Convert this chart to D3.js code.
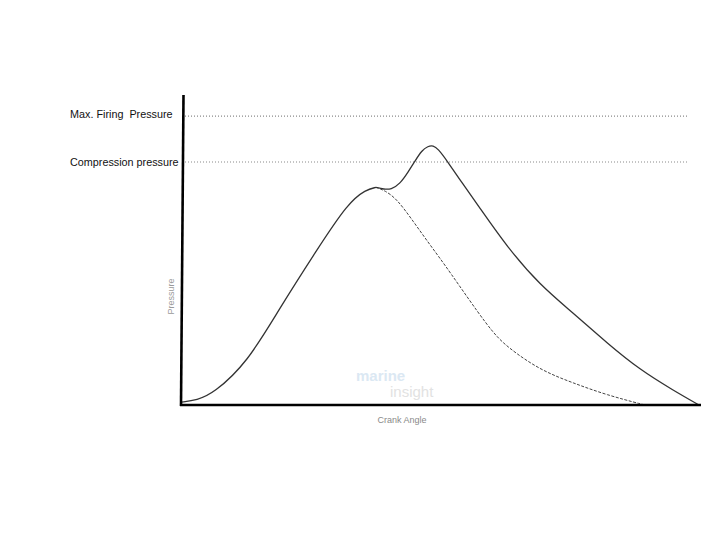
<!DOCTYPE html>
<html><head><meta charset="utf-8">
<script src="https://cdn.jsdelivr.net/npm/d3@7"></script>
<style>body{margin:0;background:#fff}svg{display:block}text{white-space:pre}</style>
</head><body>
<svg id="c" width="720" height="540"></svg>
<script>
// Crank angle (0-100) and pressure (0-100) in relative units
const compressionAngle = [0.0, 3.1, 6.2, 12.7, 19.0, 26.0, 32.1, 35.6, 37.5];
const compressionPressure = [0.9, 1.6, 3.7, 13.5, 31.3, 49.7, 65.2, 69.5, 70.2];

const motoringAngle = [37.5, 39.2, 41.5, 44.6, 47.9, 51.2, 59.4, 62.7, 69.0, 75.4, 81.9, 89.2];
const motoringPressure = [70.2, 69.2, 66.5, 59.4, 51.6, 44.2, 24.2, 18.7, 11.3, 7.1, 3.2, 0];

const firingAngle = [37.5, 39.0, 40.4, 42.1, 43.7, 45.0, 46.3, 47.5, 48.5, 49.4, 51.2, 54.2, 57.1, 62.7, 69.0, 75.4, 81.9, 88.3, 94.6, 99.6];
const firingPressure = [70.2, 69.6, 69.5, 71.3, 75.2, 78.7, 82.1, 83.5, 83.7, 82.7, 78.7, 71.3, 64.5, 51.0, 38.7, 29.7, 20.0, 11.3, 4.8, 0];

const refLabels = ["Max. Firing  Pressure", "Compression pressure"];
const refValues = [93.2, 78.4];
const xTitle = "Crank Angle";
const yTitle = "Pressure";

const svg = d3.select("#c");
const x = d3.scaleLinear().domain([0, 100]).range([181, 701]);
const y = d3.scaleLinear().domain([0, 100]).range([405, 95]);

const zip = (a, b) => a.map((v, i) => [v, b[i]]);
const line = d3.line().x(d => x(d[0])).y(d => y(d[1])).curve(d3.curveBasis);

// watermark
const wm = svg.append("g");
wm.append("text").attr("x", 356).attr("y", 381).text("marine")
  .attr("font-family", "Liberation Sans, Arial, sans-serif").attr("font-weight", "bold")
  .attr("font-size", 15).attr("fill", "#dbe8f3");
wm.append("text").attr("x", 390).attr("y", 397).text("insight")
  .attr("font-family", "Liberation Sans, Arial, sans-serif")
  .attr("font-size", 15).attr("fill", "#e2e2e2");

// reference dotted lines
refValues.forEach((v, i) => {
  svg.append("line").attr("x1", 185).attr("x2", 688)
    .attr("y1", y(v)).attr("y2", y(v))
    .attr("stroke", "#8a8a8a").attr("stroke-width", 1.1)
    .attr("stroke-dasharray", "1,2");
  svg.append("text").attr("x", 70).attr("y", y(v) + (i === 0 ? 1.5 : 4))
    .text(refLabels[i])
    .attr("font-family", "Liberation Sans, Arial, sans-serif")
    .attr("font-size", 10.8).attr("fill", "#111");
});

// curves
svg.append("path").datum(zip(motoringAngle, motoringPressure)).attr("d", line)
  .attr("fill", "none").attr("stroke", "#444").attr("stroke-width", 1)
  .attr("stroke-dasharray", "3,1.5");
svg.append("path").datum(zip(compressionAngle, compressionPressure)).attr("d", line)
  .attr("fill", "none").attr("stroke", "#333").attr("stroke-width", 1.3);
svg.append("path").datum(zip(firingAngle, firingPressure)).attr("d", line)
  .attr("fill", "none").attr("stroke", "#333").attr("stroke-width", 1.3);

// axes
svg.append("line").attr("x1", x(0) + 2.5).attr("y1", y(100))
  .attr("x2", x(0)).attr("y2", y(0) + 1)
  .attr("stroke", "#000").attr("stroke-width", 2.6);
svg.append("line").attr("x1", x(0) - 1).attr("y1", y(0))
  .attr("x2", x(100)).attr("y2", y(0))
  .attr("stroke", "#000").attr("stroke-width", 2.6);

// axis titles
svg.append("text").attr("transform", `translate(174,${y(35)}) rotate(-90)`)
  .attr("text-anchor", "middle").text(yTitle)
  .attr("font-family", "Liberation Sans, Arial, sans-serif")
  .attr("font-size", 9).attr("fill", "#9a9a9a");
svg.append("text").attr("x", x(42.5)).attr("y", 423)
  .attr("text-anchor", "middle").text(xTitle)
  .attr("font-family", "Liberation Sans, Arial, sans-serif")
  .attr("font-size", 9).attr("fill", "#8a8a8a");
</script>
</body></html>
